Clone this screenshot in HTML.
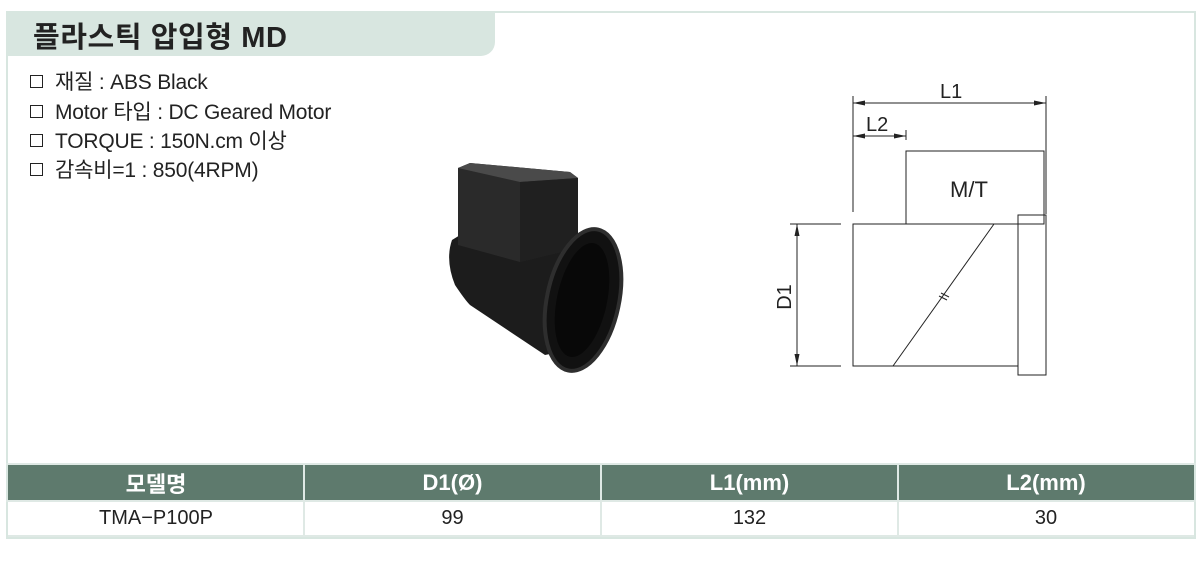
<!DOCTYPE html>
<html><head><meta charset="utf-8"><style>
body{margin:0;width:1200px;height:566px;background:#fff;font-family:"Liberation Sans","Noto Sans CJK KR",sans-serif;position:relative;overflow:hidden}
.frame{position:absolute;left:6px;top:11px;width:1190px;height:528px;border:2px solid #d8e6e0;box-sizing:border-box}
.hdr{position:absolute;left:6px;top:11px;width:489px;height:45px;background:#d8e6e0;border-radius:0 0 14px 0}
.hdr span{position:absolute;left:27px;top:3px;font-size:29px;font-weight:bold;color:#222;letter-spacing:0.6px}
.spec{position:absolute;left:30px;font-size:21px;color:#222;letter-spacing:-0.2px}
.box{display:inline-block;width:11px;height:11px;border:1.5px solid #222;margin-right:12px;vertical-align:1px}
.c{position:absolute;display:flex;align-items:center;justify-content:center;box-sizing:border-box}
.h{background:#5e7a6d;color:#fff;font-weight:bold;font-size:22px;top:465px;height:36px}
.d{top:501px;height:36px;font-size:20px;color:#222;border-bottom:2px solid #dfe9e5}
.sep{position:absolute;top:465px;width:2px;height:72px;background:#dfe9e5}
</style></head><body>
<div class="frame"></div>
<div class="hdr"><span>플라스틱 압입형 MD</span></div>
<div class="spec" style="top:66px"><span class="box"></span>재질 : ABS Black</div>
<div class="spec" style="top:96px"><span class="box"></span>Motor 타입 : DC Geared Motor</div>
<div class="spec" style="top:125px"><span class="box"></span>TORQUE : 150N.cm 이상</div>
<div class="spec" style="top:154px"><span class="box"></span>감속비=1 : 850(4RPM)</div>
<svg style="position:absolute;left:0;top:0" width="1200" height="566">
<defs><marker id="a" viewBox="0 0 12 6" refX="12" refY="3" markerWidth="12" markerHeight="6" markerUnits="userSpaceOnUse" orient="auto-start-reverse"><path d="M0,0.5 L12,3 L0,5.5z" fill="#222"/></marker></defs>
<g stroke="#222" stroke-width="1" fill="none">
<line x1="853" y1="96" x2="853" y2="212"/><line x1="1046" y1="96" x2="1046" y2="214"/>
<line x1="853" y1="103" x2="1046" y2="103" marker-start="url(#a)" marker-end="url(#a)"/>
<line x1="906" y1="130" x2="906" y2="140"/>
<line x1="853" y1="136" x2="906" y2="136" marker-start="url(#a)" marker-end="url(#a)"/>
<rect x="906" y="151" width="138" height="73"/>
<rect x="853" y="224" width="165" height="142"/>
<rect x="1018" y="215" width="28" height="160"/>
<line x1="994" y1="224" x2="893" y2="366"/>
<line x1="939" y1="296" x2="947" y2="300"/><line x1="941" y1="293" x2="949" y2="297"/>
<line x1="790" y1="224" x2="841" y2="224"/><line x1="790" y1="366" x2="841" y2="366"/>
<line x1="797" y1="224" x2="797" y2="366" marker-start="url(#a)" marker-end="url(#a)"/>
</g>
<g font-family="Liberation Sans" font-size="20" fill="#222">
<text x="940" y="98">L1</text><text x="866" y="131">L2</text>
<text x="950" y="197" font-size="22">M/T</text>
<text transform="translate(791,297) rotate(-90)" text-anchor="middle">D1</text>
</g>
<g>
<path d="M452,240 Q445,260 455,285 Q465,300 470,305 L545,355 L580,348 L560,245 L465,232z" fill="#1c1c1c"/>
<path d="M458,168 L470,163 L570,172 L578,178 L578,248 L520,262 L458,245z" fill="#2a2a2a"/>
<path d="M458,168 L520,182 L578,178 L570,172 L470,163z" fill="#4a4a4a"/>
<path d="M520,182 L578,178 L578,248 L520,262z" fill="#202020"/>
<ellipse cx="583" cy="300" rx="36" ry="72" transform="rotate(12 583 300)" fill="#111" stroke="#2e2e2e" stroke-width="4"/>
<ellipse cx="582" cy="300" rx="25" ry="58" transform="rotate(12 582 300)" fill="#080808"/>
</g>
</svg>
<div class="c h" style="left:8px;width:1186px"></div>
<div class="c h" style="left:8px;width:296px">모델명</div>
<div class="c h" style="left:304px;width:297px">D1(Ø)</div>
<div class="c h" style="left:601px;width:297px">L1(mm)</div>
<div class="c h" style="left:898px;width:296px">L2(mm)</div>
<div class="c d" style="left:8px;width:296px">TMA−P100P</div>
<div class="c d" style="left:304px;width:297px">99</div>
<div class="c d" style="left:601px;width:297px">132</div>
<div class="c d" style="left:898px;width:296px">30</div>
<div style="position:absolute;left:6px;top:463px;width:1190px;height:2px;background:#dfe9e5"></div>
<div style="position:absolute;left:6px;top:500px;width:1190px;height:2px;background:#dfe9e5"></div>
<div class="sep" style="left:303px"></div><div class="sep" style="left:600px"></div><div class="sep" style="left:897px"></div>
</body></html>
